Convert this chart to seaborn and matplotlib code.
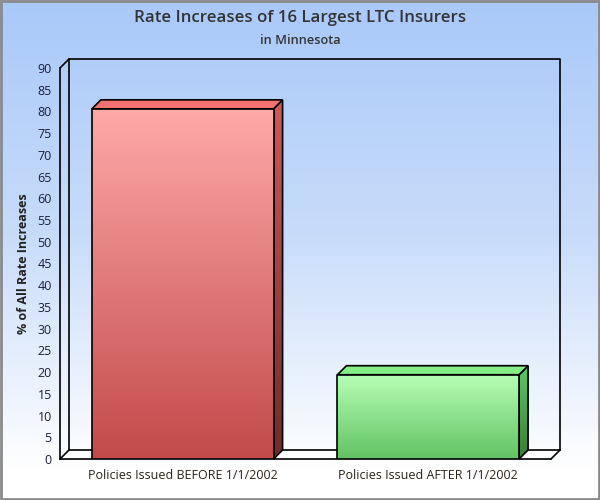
import numpy as np
import matplotlib
matplotlib.use('Agg')
import matplotlib.pyplot as plt
import seaborn as sns
from matplotlib.patches import Polygon
from matplotlib.colors import LinearSegmentedColormap

# datos
categorias = ['Policies Issued BEFORE 1/1/2002', 'Policies Issued AFTER 1/1/2002']
valores = [80.6, 19.4]
titulo = 'Rate Increases of 16 Largest LTC Insurers'
subtitulo = 'in Minnesota'
etiqueta_y = '% of All Rate Increases'
ticks_y = list(range(0, 95, 5))

sns.set_style('white')
plt.rcParams['font.family'] = ['Open Sans', 'DejaVu Sans']

W, H = 600, 500
fig = plt.figure(figsize=(6, 5), dpi=100)
fig.patch.set_facecolor('white')

# fondo con degradado (coordenadas en pixeles)
bg = fig.add_axes([0, 0, 1, 1], zorder=0)
bg.set_xlim(0, W)
bg.set_ylim(0, H)
bg.axis('off')
grad = LinearSegmentedColormap.from_list('bg', ['#ffffff', '#c8dcfa', '#a9c9f9'])
bg.imshow(np.linspace(0, 1, 256).reshape(-1, 1), cmap=grad, origin='lower',
          extent=[0, W, 30, H], aspect='auto', zorder=0)
bg.add_patch(plt.Rectangle((1, 1), W - 2, H - 2, fill=False, ec='#8a8a8a', lw=2, zorder=5))

# eje principal
x0, y0, x1, y1 = 60, 41, 551, 432   # pixeles, origen abajo-izquierda
ax = fig.add_axes([x0 / W, y0 / H, (x1 - x0) / W, (y1 - y0) / H], zorder=2)
ax.patch.set_alpha(0)
sns.barplot(x=categorias, y=valores, ax=ax, width=0.74, color='white', edgecolor='black',
            linewidth=1.2, zorder=3)
ax.set_xlim(-0.5, 1.5)
ax.set_ylim(0, 90)
ax.set_yticks(ticks_y)
for s in ['top', 'right', 'bottom']:
    ax.spines[s].set_visible(False)
ax.spines['left'].set_color('black')
ax.spines['left'].set_linewidth(1.2)
ax.tick_params(axis='both', length=0, labelsize=9, colors='#1c1c3c')
ax.tick_params(axis='y', pad=6)
ax.tick_params(axis='x', pad=7, colors='#2a2218')
ax.set_xlabel('')
ax.set_ylabel('')

d = 9  # profundidad 3D en pixeles
lw = 1.2
# paredes
bg.plot([x0 + d, x1 + d, x1 + d], [y1 + d, y1 + d, y0 + d], color='black', lw=lw, zorder=3)
bg.plot([x0 + d, x1 + d], [y0 + d, y0 + d], color='black', lw=lw, zorder=3)
bg.plot([x0 + d, x0 + d], [y0 + d, y1 + d], color='black', lw=lw, zorder=3)
bg.plot([x0, x0 + d], [y1, y1 + d], color='black', lw=lw, zorder=3)
bg.plot([x0, x0 + d], [y0, y0 + d], color='black', lw=lw, zorder=3)
bg.plot([x1, x1 + d], [y0, y0 + d], color='black', lw=lw, zorder=3)
bg.plot([x0, x1], [y0, y0], color='black', lw=lw, zorder=3)
bg.add_patch(Polygon([(x0, y0), (x1, y0), (x1 + d, y0 + d), (x0 + d, y0 + d)],
                     closed=True, fc='white', ec='none', zorder=2))

colores = [
    {'frente': ['#c24a4a', '#ffa9a9'], 'lado': ['#6e2b2b', '#d25858'], 'tope': '#f27272'},
    {'frente': ['#62c262', '#b6ffb6'], 'lado': ['#3a7a3a', '#62c862'], 'tope': '#86ee86'},
]

fig.canvas.draw()
col = np.linspace(0, 1, 256).reshape(-1, 1)
for patch, c in zip(ax.patches, colores):
    patch.set_facecolor('none')
    bx, by, bw, bh = patch.get_x(), patch.get_y(), patch.get_width(), patch.get_height()
    cm = LinearSegmentedColormap.from_list('f', c['frente'])
    im = ax.imshow(col, cmap=cm, origin='lower', extent=[bx, bx + bw, by, by + bh],
                   aspect='auto', zorder=2)
    im.set_clip_path(patch)
    # coordenadas en pixeles de la cara frontal
    (px0, py0), (px1, py1) = ax.transData.transform([(bx, by), (bx + bw, by + bh)])
    lado = Polygon([(px1, py0), (px1 + d, py0 + d), (px1 + d, py1 + d), (px1, py1)],
                   closed=True, fc='none', ec='black', lw=lw, zorder=4)
    bg.add_patch(lado)
    cm2 = LinearSegmentedColormap.from_list('l', c['lado'])
    im2 = bg.imshow(col, cmap=cm2, origin='lower', extent=[px1, px1 + d, py0, py1 + d],
                    aspect='auto', zorder=3)
    im2.set_clip_path(lado)
    bg.add_patch(Polygon([(px0, py1), (px1, py1), (px1 + d, py1 + d), (px0 + d, py1 + d)],
                         closed=True, fc=c['tope'], ec='black', lw=lw, zorder=4))
ax.set_xlim(-0.5, 1.5)

fig.text(0.5, 1 - 18 / H, titulo, ha='center', va='center', fontsize=12.2,
         fontweight='semibold', color='#333333')
fig.text(0.5, 1 - 40 / H, subtitulo, ha='center', va='center', fontsize=9.2,
         fontweight='semibold', color='#333333')
fig.text(24 / W, 1 - 264 / H, etiqueta_y, ha='center', va='center', rotation=90,
         fontsize=9, fontweight='bold', color='#222222')

fig.savefig('out.png', dpi=100)
